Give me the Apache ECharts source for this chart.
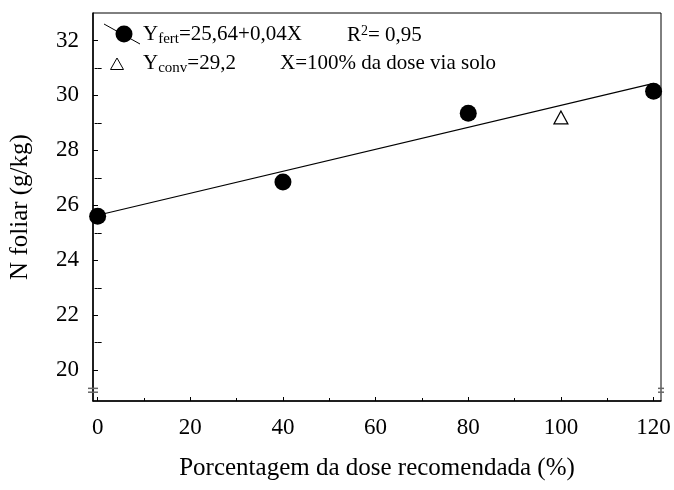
<!DOCTYPE html>
<html>
<head>
<meta charset="utf-8">
<script src="https://cdn.jsdelivr.net/npm/echarts@6/dist/echarts.min.js"></script>
<style>
html,body{margin:0;padding:0;background:#fff;}
#chart{width:674px;height:490px;}
</style>
</head>
<body>
<div id="chart"></div>
<script>
// ---- data ----
var fertX = [0, 40, 80, 120];
var fertY = [25.6, 26.85, 29.35, 30.15];
var convX = [100];
var convY = [29.2];
var fitX = [0, 120];
var fitY = [25.64, 30.44];
var xMajor = [0, 20, 40, 60, 80, 100, 120];
var xMinor = [10, 30, 50, 70, 90, 110];
var yMajor = [20, 22, 24, 26, 28, 30, 32];
var yMinor = [21, 23, 25, 27, 29, 31];
var xTitle = 'Porcentagem da dose recomendada (%)';
var yTitle = 'N foliar (g/kg)';

var FONT = 'Liberation Serif';
var XMIN = -1, XMAX = 121.6, YMIN = 18.88, YMAX = 33.0;

function zip(a, b) { return a.map(function (v, i) { return [v, b[i]]; }); }

var chart = echarts.init(document.getElementById('chart'));

function xAx(extra) {
  return Object.assign({
    type: 'value', min: XMIN, max: XMAX, position: 'bottom',
    splitLine: { show: false },
    axisLine: { show: false },
    axisTick: { show: false },
    axisLabel: { show: false }
  }, extra);
}
function yAx(extra) {
  return Object.assign({
    type: 'value', min: YMIN, max: YMAX, position: 'left',
    splitLine: { show: false },
    axisLine: { show: false },
    axisTick: { show: false },
    axisLabel: { show: false }
  }, extra);
}

var option = {
  backgroundColor: '#fff',
  animation: false,
  grid: {
    left: 92, top: 13, right: 13, bottom: 89,
    show: true, borderColor: '#000', borderWidth: 1, backgroundColor: 'transparent'
  },
  xAxis: [
    xAx({
      axisLine: { show: true, onZero: false, lineStyle: { color: '#000', width: 1.5 } },
      axisTick: { show: true, inside: true, length: 4, customValues: xMajor, lineStyle: { color: '#000' } },
      axisLabel: { show: true, customValues: xMajor, margin: 15, color: '#000', fontFamily: FONT, fontSize: 23 },
      name: xTitle, nameLocation: 'middle', nameGap: 55,
      nameTextStyle: { color: '#000', fontFamily: FONT, fontSize: 25 }
    }),
    xAx({
      axisTick: { show: true, inside: true, length: 3, customValues: xMinor, lineStyle: { color: '#000' } }
    })
  ],
  yAxis: [
    yAx({
      axisLine: { show: true, onZero: false, lineStyle: { color: '#000', width: 1.5 } },
      axisTick: { show: true, inside: true, length: 5, customValues: yMajor, lineStyle: { color: '#000' } },
      axisLabel: { show: true, customValues: yMajor, margin: 14, color: '#000', fontFamily: FONT, fontSize: 23 },
      name: yTitle, nameLocation: 'middle', nameGap: 60,
      nameTextStyle: { color: '#000', fontFamily: FONT, fontSize: 25 }
    }),
    yAx({
      axisTick: { show: true, inside: true, length: 4, customValues: yMinor, lineStyle: { color: '#000' } }
    }),
    yAx({
      position: 'right',
      axisTick: { show: true, inside: true, length: 3, customValues: yMajor.concat(yMinor), lineStyle: { color: '#000' } }
    })
  ],
  series: [
    {
      type: 'line', name: 'fit', data: zip(fitX, fitY),
      xAxisIndex: 0, yAxisIndex: 0,
      showSymbol: false, symbol: 'none',
      lineStyle: { color: '#000', width: 1.2 }, z: 2
    },
    {
      type: 'scatter', name: 'fert', data: zip(fertX, fertY),
      xAxisIndex: 0, yAxisIndex: 0,
      symbol: 'circle', symbolSize: 17,
      itemStyle: { color: '#000', opacity: 1 }, z: 3
    },
    {
      type: 'scatter', name: 'conv', data: zip(convX, convY),
      xAxisIndex: 0, yAxisIndex: 0,
      symbol: 'triangle', symbolSize: [14, 13],
      itemStyle: { color: '#fff', borderColor: '#000', borderWidth: 1.2, opacity: 1 }, z: 3
    }
  ]
};
chart.setOption(option);

// legend + axis break marks as decorations
var yb1 = chart.convertToPixel({ yAxisIndex: 0 }, 19.34);
var yb2 = chart.convertToPixel({ yAxisIndex: 0 }, 19.2);
var xl = chart.convertToPixel({ xAxisIndex: 0 }, XMIN);
var xr = chart.convertToPixel({ xAxisIndex: 0 }, XMAX);

var rich = {
  n: { fontFamily: FONT, fontSize: 21, color: '#000' },
  sub: { fontFamily: FONT, fontSize: 15, color: '#000', padding: [10, 0, 0, 0] },
  sup: { fontFamily: FONT, fontSize: 14, color: '#000', padding: [0, 0, 9, 0] }
};
var breakStyle = { stroke: '#666', lineWidth: 1.5 };

chart.setOption({
  graphic: [
    { type: 'line', shape: { x1: 104, y1: 24, x2: 140, y2: 44 }, style: { stroke: '#000', lineWidth: 1 }, z: 10 },
    { type: 'circle', shape: { cx: 124, cy: 34, r: 8.5 }, style: { fill: '#000' }, z: 11 },
    { type: 'text', left: 143, top: 24, z: 11,
      style: { text: '{n|Y}{sub|fert}{n|=25,64+0,04X}', rich: rich } },
    { type: 'text', left: 347, top: 24, z: 11,
      style: { text: '{n|R}{sup|2}{n|= 0,95}', rich: rich } },
    { type: 'polygon', shape: { points: [[117, 58], [110.5, 69.5], [123.5, 69.5]] }, style: { fill: '#fff', stroke: '#000', lineWidth: 1 }, z: 11 },
    { type: 'text', left: 143, top: 53, z: 11,
      style: { text: '{n|Y}{sub|conv}{n|=29,2}', rich: rich } },
    { type: 'text', left: 280, top: 53, z: 11,
      style: { text: '{n|X=100% da dose via solo}', rich: rich } },
    { type: 'line', shape: { x1: xl - 5, y1: yb1, x2: xl + 5, y2: yb1 }, style: breakStyle, z: 12 },
    { type: 'line', shape: { x1: xl - 5, y1: yb2, x2: xl + 5, y2: yb2 }, style: breakStyle, z: 12 },
    { type: 'line', shape: { x1: xr - 3, y1: yb1, x2: xr + 3, y2: yb1 }, style: breakStyle, z: 12 },
    { type: 'line', shape: { x1: xr - 3, y1: yb2, x2: xr + 3, y2: yb2 }, style: breakStyle, z: 12 }
  ]
});
</script>
</body>
</html>
